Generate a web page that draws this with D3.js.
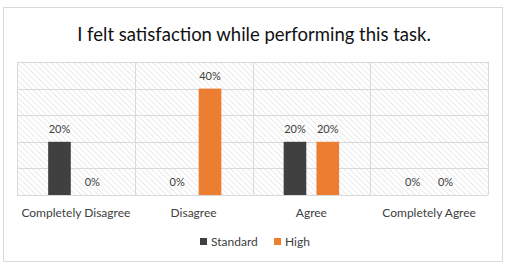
<!DOCTYPE html>
<html>
<head>
<meta charset="utf-8">
<script src="https://d3js.org/d3.v7.min.js"></script>
<style>
  body { margin: 0; background: #fff; }
  svg text { font-family: Lato, "Open Sans", sans-serif; }
</style>
</head>
<body>
<div id="chart"></div>
<script>
// Chart data
const categories = ['Completely Disagree', 'Disagree', 'Agree', 'Completely Agree'];
const seriesNames = ['Standard', 'High'];
const standardValues = [20, 0, 20, 0];
const highValues = [0, 40, 20, 0];
const yTicks = [0, 10, 20, 30, 40, 50];
const colors = ['#404040', '#ED7D31'];

const W = 508, H = 266;
const margin = { top: 62, right: 20, bottom: 71, left: 17 };
const width = W - margin.left - margin.right;
const height = H - margin.top - margin.bottom;

const svg = d3.select('#chart')
    .append('svg')
    .attr('width', W)
    .attr('height', H);

// Hatch pattern for plot background
const defs = svg.append('defs');
const pat = defs.append('pattern')
    .attr('id', 'hatch')
    .attr('patternUnits', 'userSpaceOnUse')
    .attr('width', 4)
    .attr('height', 4)
    .attr('patternTransform', 'rotate(45)');
pat.append('rect').attr('width', 4).attr('height', 4).attr('fill', '#fff');
pat.append('line')
    .attr('x1', 0).attr('y1', 0).attr('x2', 4).attr('y2', 0)
    .attr('stroke', '#dcdcdc').attr('stroke-width', 1.2);

// Outer chart border
svg.append('rect')
    .attr('x', 3.5).attr('y', 7.5)
    .attr('width', 499).attr('height', 254)
    .attr('fill', '#fff')
    .attr('stroke', '#d9d9d9');

// Title
svg.append('text')
    .attr('x', W / 2)
    .attr('y', 40.5)
    .attr('text-anchor', 'middle')
    .attr('font-size', 18.5)
    .attr('fill', '#111')
    .text('I felt satisfaction while performing this task.');

const g = svg.append('g')
    .attr('transform', `translate(${margin.left},${margin.top})`);

const x0 = d3.scaleBand().domain(categories).range([0, width]);
const x1 = d3.scaleBand().domain(seriesNames).range([0, x0.bandwidth()])
    .paddingInner(0.31).paddingOuter(0.95);
const y = d3.scaleLinear().domain([0, 50]).range([height, 0]);

g.append('rect')
    .attr('width', width).attr('height', height)
    .attr('fill', 'url(#hatch)');

// Horizontal gridlines
g.append('g')
    .selectAll('line')
    .data(yTicks)
    .join('line')
    .attr('x1', 0).attr('x2', width)
    .attr('y1', d => Math.round(y(d)) + 0.5)
    .attr('y2', d => Math.round(y(d)) + 0.5)
    .attr('stroke', '#d9d9d9');

// Vertical category separators
const seps = categories.map(c => x0(c)).concat([width]);
g.append('g')
    .selectAll('line')
    .data(seps)
    .join('line')
    .attr('x1', d => Math.round(d) + 0.5).attr('x2', d => Math.round(d) + 0.5)
    .attr('y1', 0).attr('y2', height)
    .attr('stroke', '#d9d9d9');

const rows = categories.map((c, i) => ({
    cat: c,
    vals: [
        { s: seriesNames[0], v: standardValues[i] },
        { s: seriesNames[1], v: highValues[i] },
    ],
}));

const groups = g.selectAll('.grp')
    .data(rows)
    .join('g')
    .attr('class', 'grp')
    .attr('transform', d => `translate(${x0(d.cat)},0)`);

groups.selectAll('rect')
    .data(d => d.vals)
    .join('rect')
    .attr('x', d => x1(d.s))
    .attr('width', x1.bandwidth())
    .attr('y', d => y(d.v))
    .attr('height', d => height - y(d.v))
    .attr('fill', (d, i) => colors[i]);

groups.selectAll('text')
    .data(d => d.vals)
    .join('text')
    .attr('x', d => x1(d.s) + x1.bandwidth() / 2)
    .attr('y', d => y(d.v) - 9)
    .attr('text-anchor', 'middle')
    .attr('font-size', 11)
    .attr('fill', '#404040')
    .text(d => d.v + '%');

// Category axis
const xAxis = g.append('g')
    .attr('transform', `translate(0,${height})`)
    .call(d3.axisBottom(x0).tickSize(0).tickPadding(13));
xAxis.select('.domain').remove();
xAxis.selectAll('text')
    .attr('font-size', 12)
    .attr('fill', '#404040')
    .style('font-family', 'Lato, sans-serif');

// Legend
const legend = svg.append('g').attr('transform', 'translate(200,242)');
const legendX = [0, 74];
seriesNames.forEach((s, i) => {
    const lg = legend.append('g').attr('transform', `translate(${legendX[i]},0)`);
    lg.append('rect').attr('x', 0).attr('y', -4).attr('width', 7).attr('height', 7)
        .attr('fill', colors[i]);
    lg.append('text').attr('x', 11).attr('y', 0).attr('dy', '0.35em')
        .attr('font-size', 12).attr('fill', '#404040').text(s);
});
</script>
</body>
</html>
